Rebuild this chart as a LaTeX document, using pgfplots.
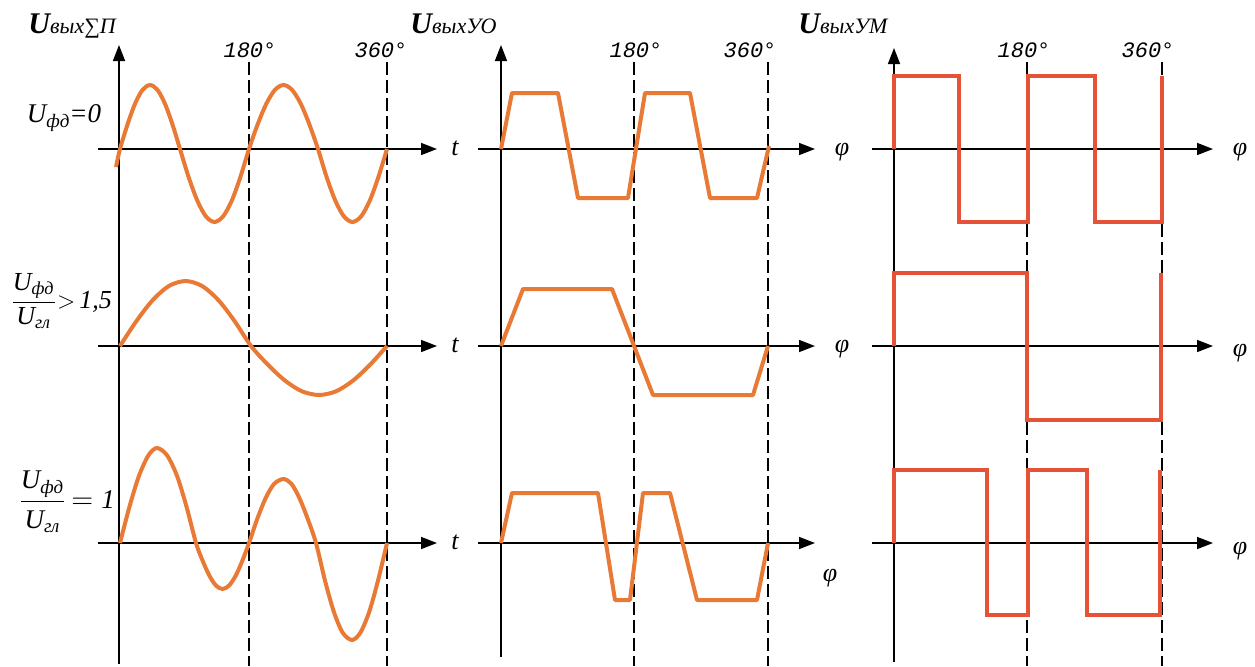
\documentclass[border=0pt]{standalone}
\usepackage{fontspec}
\setmainfont{Liberation Serif}
\newfontfamily\monofont{Liberation Mono}
\usepackage{amsmath}
\usepackage{pgfplots}
\pgfplotsset{compat=1.18}
\usetikzlibrary{arrows.meta}
\definecolor{sinor}{RGB}{233,122,54}
\definecolor{sqred}{RGB}{230,82,56}
\tikzset{
  axline/.style={black, line width=0.8pt, -{Triangle[length=8pt,width=6pt]}},
  dashline/.style={black, line width=0.75pt, dash pattern=on 6.5pt off 2.5pt}}
\newcommand\titleU[1]{{\fontsize{15}{18}\selectfont\bfseries\itshape U}{\fontsize{11}{13}\selectfont\itshape #1}}
\newcommand\dlab[1]{{\monofont\itshape\fontsize{11}{12}\selectfont #1}}
\newcommand\vlab[1]{{\fontsize{13}{15}\selectfont\itshape #1}}
\begin{document}
\begin{tikzpicture}
\useasboundingbox (0,0) rectangle (627.5pt,333pt);
\begin{axis}[at={(0,0)}, anchor=south west, scale only axis,
  width=627.5pt, height=333pt, xmin=0, xmax=1255, ymin=0, ymax=666,
  y dir=reverse, hide axis, clip=false]
% dashed phase lines
\pgfplotsinvokeforeach{249,387,634,768,1027,1162}{
  \draw[dashline] (axis cs:#1,62) -- (axis cs:#1,666);
}
% vertical axes
\draw[axline] (axis cs:119,664) -- (axis cs:119,45);
\draw[axline] (axis cs:501,657) -- (axis cs:501,45);
\draw[axline] (axis cs:894,662) -- (axis cs:894,48);
% horizontal axes
\pgfplotsinvokeforeach{149,346,543}{
  \draw[axline] (axis cs:98,#1) -- (axis cs:437,#1);
  \draw[axline] (axis cs:478,#1) -- (axis cs:815,#1);
  \draw[axline] (axis cs:872,#1) -- (axis cs:1213,#1);
}
% ---- left column: sum signal
\addplot[sinor, line width=2pt, smooth] coordinates {
 (116,167) (120,149) (127.5,124.5) (135,103.8) (142.5,89.9) (150,85) (157.5,89.9) (165,103.8) (172.5,124.5) (180,149)
 (188.6,177) (197.3,200.6) (205.9,216.4) (214.5,222) (223.1,216.4) (231.8,200.6) (240.4,177) (249,149)
 (257.6,124.5) (266.3,103.8) (274.9,89.9) (283.5,85) (292.1,89.9) (300.8,103.8) (309.4,124.5) (318,149)
 (326.6,177) (335.3,200.6) (343.9,216.4) (352.5,222) (361.1,216.4) (369.8,200.6) (378.4,177) (387,149)
};
\addplot[sinor, line width=2pt, smooth] coordinates {
 (120,346) (136.4,321.1) (152.8,300) (169.1,285.9) (185.5,281) (201.9,285.9) (218.3,300) (234.6,321.1) (251,346)
 (268,364.8) (285,380.6) (302,391.3) (319,395) (336,391.3) (353,380.6) (370,364.8) (387,346)
};
\addplot[sinor, line width=2pt, smooth] coordinates {
 (120,543) (129.5,506.6) (139,475.8) (148.5,455.2) (157,448) (167,455.2) (177,475.8) (186.5,506.6) (196,543)
 (202.6,560.6) (209.3,575.5) (215.9,585.5) (222.5,589) (229.1,585.5) (235.8,575.5) (242.4,560.6) (249,543)
 (257.4,518.5) (265.8,497.8) (274.1,483.9) (283.5,479) (291.5,483.9) (299.3,497.8) (307.6,518.5) (316,543)
 (324.9,580.2) (333.8,611.6) (342.6,632.6) (352,640) (360.4,632.6) (369.3,611.6) (378.1,580.2) (387,543)
};
% ---- middle column: limiter output
\addplot[sinor, line width=2pt, line join=round] coordinates {
 (501,149) (512,93) (558,93) (578,198) (628,198) (645,93) (690,93) (710,198) (757,198) (769,146)
};
\addplot[sinor, line width=2pt, line join=round] coordinates {
 (501,346) (523,289) (612,289) (653,395) (753,395) (768,346)
};
\addplot[sinor, line width=2pt, line join=round] coordinates {
 (501,543) (512,493) (598,493) (615,600) (630,600) (643,493) (670,493) (697,600) (757,600) (768,543)
};
% ---- right column: power amplifier output
\addplot[sqred, line width=2.3pt] coordinates {
 (894,149) (894,76) (959,76) (959,222) (1028,222) (1028,76) (1095,76) (1095,222) (1162,222) (1162,76)
};
\addplot[sqred, line width=2.3pt] coordinates {
 (894,346) (894,273) (1027,273) (1027,420) (1161,420) (1161,273)
};
\addplot[sqred, line width=2.3pt] coordinates {
 (894,543) (894,470) (987,470) (987,615) (1028,615) (1028,470) (1087,470) (1087,615) (1160,615) (1160,470)
};
% ---- titles
\node[anchor=base west, inner sep=0] at (axis cs:28,33) {\titleU{вых∑П}};
\node[anchor=base west, inner sep=0] at (axis cs:410,33) {\titleU{выхУО}};
\node[anchor=base west, inner sep=0] at (axis cs:798,33) {\titleU{выхУМ}};
% ---- degree labels
\node[inner sep=0] at (axis cs:250,50) {\dlab{180°}};
\node[inner sep=0] at (axis cs:381,50) {\dlab{360°}};
\node[inner sep=0] at (axis cs:636,50) {\dlab{180°}};
\node[inner sep=0] at (axis cs:750,50) {\dlab{360°}};
\node[inner sep=0] at (axis cs:1024,50) {\dlab{180°}};
\node[inner sep=0] at (axis cs:1148,50) {\dlab{360°}};
% ---- axis variable labels
\node[inner sep=0] at (axis cs:455,148) {\vlab{t}};
\node[inner sep=0] at (axis cs:455,345) {\vlab{t}};
\node[inner sep=0] at (axis cs:455,542) {\vlab{t}};
\node[inner sep=0] at (axis cs:842,152) {\vlab{φ}};
\node[inner sep=0] at (axis cs:842,349) {\vlab{φ}};
\node[inner sep=0] at (axis cs:830,578) {\vlab{φ}};
\node[inner sep=0] at (axis cs:1240,152) {\vlab{φ}};
\node[inner sep=0] at (axis cs:1240,353) {\vlab{φ}};
\node[inner sep=0] at (axis cs:1240,551) {\vlab{φ}};
% ---- row labels
\node[inner sep=0] at (axis cs:64,118) {\fontsize{13.5}{16}\selectfont\itshape U\raisebox{-0.4ex}{\fontsize{9.5}{11}\selectfont фд}=0};
\node[inner sep=0, anchor=west] at (axis cs:10,301) {\fontsize{13}{16}\selectfont $\dfrac{\text{\itshape U}_{\text{\itshape фд}}}{\text{\itshape U}_{\text{\itshape гл}}}{>}\,\text{\itshape 1,5}$};
\node[inner sep=0, anchor=west] at (axis cs:18,502) {\fontsize{13.5}{16}\selectfont $\dfrac{\text{\itshape U}_{\text{\itshape фд}}}{\text{\itshape U}_{\text{\itshape гл}}}\,{=}\;\text{\itshape 1}$};
\end{axis}
\end{tikzpicture}
\end{document}
